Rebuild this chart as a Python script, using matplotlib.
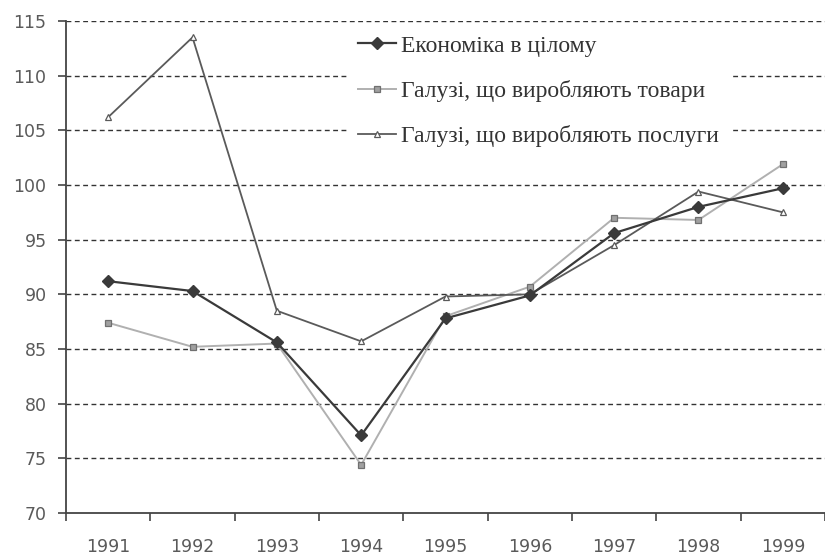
import matplotlib.pyplot as plt
import numpy as np

plt.close('all')

years = ['1991', '1992', '1993', '1994', '1995', '1996', '1997', '1998', '1999']
economy = [91.2, 90.3, 85.6, 77.1, 87.8, 89.9, 95.6, 98.0, 99.7]
goods = [87.4, 85.2, 85.5, 74.4, 88.0, 90.7, 97.0, 96.8, 101.9]
services = [106.2, 113.5, 88.5, 85.7, 89.8, 90.0, 94.5, 99.4, 97.5]

labels = ['Економіка в цілому',
          'Галузі, що виробляють товари',
          'Галузі, що виробляють послуги']

fig = plt.figure(figsize=(8.25, 5.56), dpi=100)
ax = fig.add_axes([0.08, 0.0773, 0.92, 0.885])

x = np.arange(len(years))

# Series
ax.plot(x, economy, color='#3a3a3a', lw=1.6, marker='D', ms=6.5,
        mfc='#3a3a3a', mec='#3a3a3a', label=labels[0], zorder=4)
ax.plot(x, goods, color='#b0b0b0', lw=1.4, marker='s', ms=5,
        mfc='#a0a0a0', mec='#707070', mew=0.9, label=labels[1], zorder=3)
ax.plot(x, services, color='#5a5a5a', lw=1.3, marker='^', ms=4.5,
        mfc='white', mec='#5a5a5a', mew=0.9, label=labels[2], zorder=3)

# Axes
ax.set_ylim(70, 115)
ax.set_yticks(range(70, 116, 5))
ax.set_xlim(-0.5, 8.37)
ax.set_xticks(x)
ax.set_xticklabels(years)
ax.set_xticks(np.arange(-0.5, 9, 1), minor=True)
ax.tick_params(axis='x', which='major', length=0, pad=18)
ax.tick_params(axis='x', which='minor', length=6, width=1.2, color='#444444',
               direction='out')
ax.tick_params(axis='y', length=6, width=1.2, color='#444444', pad=8)
ax.tick_params(labelsize=12.5, labelcolor='#5a5a5a')
for t in ax.get_xticklabels() + ax.get_yticklabels():
    t.set_fontfamily('DejaVu Sans')

for s in ['top', 'right']:
    ax.spines[s].set_visible(False)
for s in ['left', 'bottom']:
    ax.spines[s].set_color('#444444')
    ax.spines[s].set_linewidth(1.3)

# Dashed grid
for v in range(75, 116, 5):
    ax.axhline(v, color='#333333', lw=1.0, ls=(0, (3.5, 2.5)), zorder=1)

# Legend
leg = ax.legend(loc='upper left', bbox_to_anchor=(0.42, 0.958),
                bbox_transform=fig.transFigure, frameon=True, fancybox=False,
                framealpha=1, facecolor='white', edgecolor='none',
                prop={'family': 'Liberation Serif', 'size': 17},
                handlelength=1.6, handletextpad=0.2, labelspacing=0.98,
                borderpad=0.5, borderaxespad=0)
leg.set_zorder(5)
for t in leg.get_texts():
    t.set_color('#333333')

fig.savefig('out.png', dpi=100)
